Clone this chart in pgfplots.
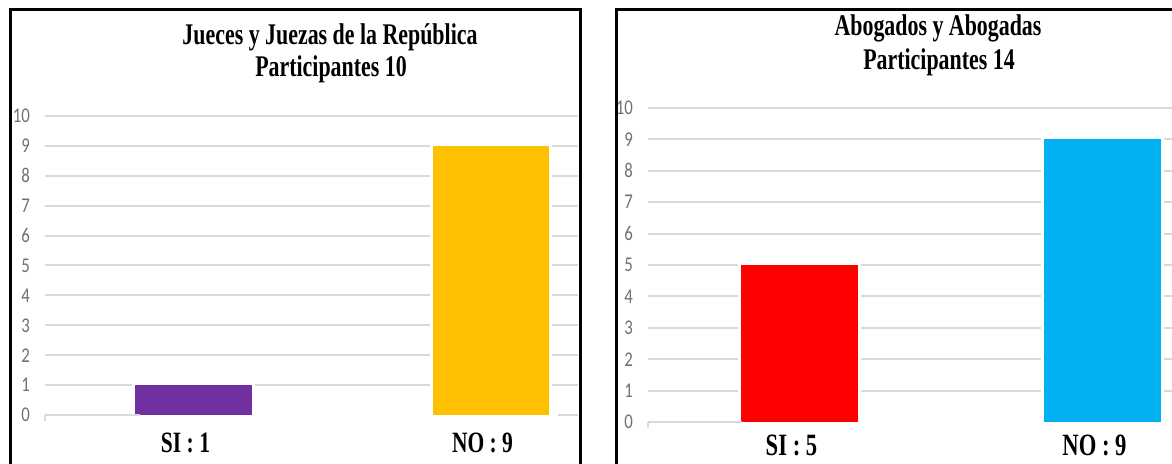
\documentclass[border=0pt]{standalone}
\usepackage{pgfplots}
\pgfplotsset{compat=1.18}
\usepackage{fontspec}
\setmainfont{Liberation Serif}
\newfontfamily\headfont[FakeStretch=0.73]{Liberation Serif}
\newfontfamily\tickfont[FakeStretch=0.8]{Carlito}

\definecolor{gridgray}{HTML}{D9D9D9}
\definecolor{tickgray}{HTML}{707070}
\definecolor{barpurple}{HTML}{7030A0}
\definecolor{baryellow}{HTML}{FFC000}
\definecolor{barred}{HTML}{FF0000}
\definecolor{barblue}{HTML}{00B0F0}

\pgfplotsset{
  panel/.style={
    scale only axis,
    ybar, bar shift=0pt,
    ymin=0, ymax=10, xmin=-0.5,
    axis line style={draw=none},
    major tick length=0pt,
    ytick={1,...,10},
    extra y ticks={0},
    extra y tick style={grid=none},
    ymajorgrids,
    grid style={gridgray, line width=2pt},
    xtick={0,1},
    /pgf/number format/assume math mode=true,
    yticklabel style={font=\tickfont\fontsize{21}{21}\selectfont, text=tickgray,
      anchor=east, inner sep=0pt, xshift=-15pt},
    clip=true,
  },
  halo/.style={fill=white, draw=white, line width=6pt},
}

\begin{document}
\begin{tikzpicture}[x=1pt, y=1pt]
\path[use as bounding box] (0,0) rectangle (1172,463);
\clip (0,0) rectangle (1172,463);

% ---------- Jueces y Juezas ----------
\begin{axis}[panel, name=L,
  at={(45pt,48pt)}, anchor=south west,
  width=533pt, height=299pt,
  xmax=1.2946,
  xticklabels={SI : 1, NO : 9},
  xticklabel style={font=\headfont\bfseries\fontsize{29.5}{30}\selectfont,
    anchor=north, inner sep=0pt, yshift=-18pt, xshift=-8pt},
]
\addplot[halo, bar width=0.3906] coordinates {(0,1) (1,9)};
\addplot[fill=barpurple, draw=none, bar width=0.3906] coordinates {(0,1)};
\addplot[fill=baryellow, draw=none, bar width=0.3906] coordinates {(1,9)};
\draw[gridgray, line width=2pt] (axis cs:-0.5,0) -- (axis cs:-0.18,0);
\draw[gridgray, line width=2pt] (axis cs:1.227,0) -- (axis cs:1.2946,0);
\end{axis}
\draw[gridgray, line width=2pt] (L.south west) -- ++(0,-6);

\node[font=\headfont\bfseries\fontsize{30}{32}\selectfont, anchor=base]
  at (330,418) {Jueces y Juezas de la República};
\node[font=\headfont\bfseries\fontsize{30}{32}\selectfont, anchor=base]
  at (331,386) {Participantes 10};

% ---------- Abogados y Abogadas ----------
\begin{axis}[panel, name=R,
  at={(648pt,41pt)}, anchor=south west,
  width=524pt, height=314pt,
  xmax=1.2294,
  xticklabels={SI : 5, NO : 9},
  xticklabel style={font=\headfont\bfseries\fontsize{31}{31}\selectfont,
    anchor=north, inner sep=0pt, yshift=-13pt, xshift=-8pt},
]
\addplot[halo, bar width=0.389] coordinates {(0,5) (1,9)};
\addplot[fill=barred, draw=none, bar width=0.389] coordinates {(0,5)};
\addplot[fill=barblue, draw=none, bar width=0.389] coordinates {(1,9)};
\draw[gridgray, line width=2pt] (axis cs:-0.5,0) -- (axis cs:-0.19,0);
\end{axis}
\draw[gridgray, line width=2pt] (R.south west) -- ++(0,-6);

\node[font=\headfont\bfseries\fontsize{30}{32}\selectfont, anchor=base]
  at (938,427) {Abogados y Abogadas};
\node[font=\headfont\bfseries\fontsize{30}{32}\selectfont, anchor=base]
  at (939,393) {Participantes 14};

% panel frames
\draw[line width=3pt] (10,-20) -- (10,453.5) -- (580,453.5) -- (580,-20);
\draw[line width=3pt] (616,-20) -- (616,453.5) -- (1190,453.5);
\end{tikzpicture}
\end{document}
